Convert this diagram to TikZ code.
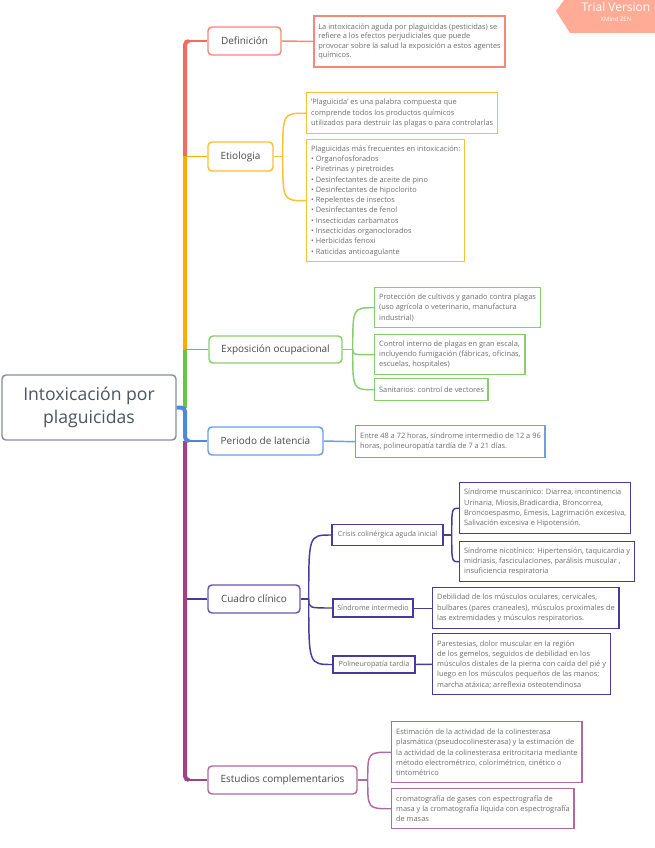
\documentclass[tikz,border=0pt]{standalone}
\usepackage{fontspec}
\setmainfont{Open Sans}
\usetikzlibrary{calc}
\definecolor{cT}{HTML}{4A4A4A}
\definecolor{cL}{HTML}{6E6E6E}
\definecolor{cCt}{HTML}{4D5560}
\definecolor{cC}{HTML}{8A9099}
\definecolor{rT}{HTML}{F26B5C}
\definecolor{rB}{HTML}{F5887B}
\definecolor{oT}{HTML}{F9AD00}
\definecolor{oB}{HTML}{FBC035}
\definecolor{gT}{HTML}{6BC14B}
\definecolor{gB}{HTML}{88CE6D}
\definecolor{bT}{HTML}{4A89DC}
\definecolor{bB}{HTML}{6D9FE2}
\definecolor{pB}{HTML}{6B55B2}
\definecolor{pC}{HTML}{4B3A9C}
\definecolor{mT}{HTML}{9E4383}
\definecolor{mB}{HTML}{B06A9D}
\definecolor{wmC}{HTML}{FFAB96}
\begin{document}
\begin{tikzpicture}[x=0.75pt,y=-0.75pt,
  centerbox/.style={draw=cC, line width=1.1pt, rounded corners=3pt, fill=white, align=center, text=cCt,
    font=\fontsize{13.2}{17.5}\selectfont, minimum width=130.5pt, minimum height=48.75pt, inner sep=0pt},
  br/.style={draw=#1, line width=1.1pt, rounded corners=3pt, fill=white, text=cT,
    font=\fontsize{7.5}{9}\selectfont, inner sep=0pt},
  lf/.style={draw=#1, line width=1.1pt, fill=white, text=cL, font=\fontsize{5.55}{7.7}\selectfont,
    align=left, anchor=north west, inner xsep=3.3pt, inner ysep=0pt},
  sb/.style={draw=#1, line width=1.1pt, fill=white, text=cL, font=\fontsize{5.4}{7}\selectfont, inner sep=0pt},
  tk/.style={line width=3pt},
  st/.style={line width=1.1pt},
  cn/.style={line width=1.1pt}]
\useasboundingbox (0,0) rectangle (655,848);
\fill[white] (0,0) rectangle (655,848);

% central topic
\node[centerbox] (c) at (89,407.5) {Intoxicación por\\plaguicidas};

% main branches
\node[br=rB, minimum width=54.75pt, minimum height=21pt] (def) at (244.5,41) {Definición};
\node[br=oB, minimum width=48.75pt, minimum height=21.75pt] (eti) at (240.5,156.5) {Etiologia};
\node[br=gB, minimum width=99.75pt, minimum height=20.25pt] (exp) at (275.5,349.5) {Exposición ocupacional};
\node[br=bB, minimum width=86.25pt, minimum height=21pt] (per) at (265.5,441) {Periodo de latencia};
\node[br=pB, minimum width=69pt, minimum height=21pt] (cua) at (254,599) {Cuadro clínico};
\node[br=mB, minimum width=111.75pt, minimum height=21pt] (est) at (282.5,780) {Estudios complementarios};

% trunk
\coordinate (tr) at (185,407.5);
\draw[tk, rT, rounded corners=3pt] (tr |- eti.west) -- (tr |- def.west) -- ++(4,0);
\draw[st, rT] (tr |- def.west) -- (def.west);
\draw[tk, oT] (tr |- exp.west) -- (tr |- eti.west);
\draw[st, oT] (tr |- eti.west) -- (eti.west);
\draw[tk, gT] (tr) -- (tr |- exp.west);
\draw[st, gT] (tr |- exp.west) -- (exp.west);
\draw[st, pC] (tr |- cua.west) -- (cua.west);
\draw[tk, mT, rounded corners=3pt] (tr |- per.west) -- (tr |- est.west) -- ++(4,0);
\draw[st, mT] (tr |- est.west) -- (est.west);
\draw[tk, bT, rounded corners=3pt] (c.east) -- (tr) -- (tr |- per.west) -- ++(4,0);
\draw[st, bT] (tr |- per.west) -- (per.west);

% Definicion
\node[lf=rB, line width=1.5pt, font=\fontsize{5.55}{7.1}\selectfont, minimum height=38.25pt] (defl) at (313,15)
 {La intoxicación aguda por plaguicidas (pesticidas) se\\refiere a los efectos perjudiciales que puede\\provocar sobre la salud la exposición a estos agentes\\químicos.};
\draw[cn, rB] (def.east) -- (defl.west);

% Etiologia
\node[lf=oB, minimum height=30.75pt] (eti1) at (306,92)
 {'Plaguicida' es una palabra compuesta que\\comprende todos los productos químicos\\utilizados para destruir las plagas o para controlarlas};
\node[lf=oB, minimum height=91.5pt] (eti2) at (306,139)
 {Plaguicidas más frecuentes en intoxicación:\\• Organofosforados\\• Piretrinas y piretroides\\• Desinfectantes de aceite de pino\\• Desinfectantes de hipoclorito\\• Repelentes de insectos\\• Desinfectantes de fenol\\• Insecticidas carbamatos\\• Insecticidas organoclorados\\• Herbicidas fenoxi\\• Raticidas anticoagulante};
\coordinate (jE) at ($(eti.east)+(9,0)$);
\draw[cn, oB] (eti.east) -- (jE);
\draw[cn, oB] (jE) .. controls (jE |- eti1.west) .. (eti1.west);
\draw[cn, oB] (jE) .. controls (jE |- eti2.west) .. (eti2.west);

% Exposicion
\node[lf=gB, minimum height=30pt] (exp1) at (374,287)
 {Protección de cultivos y ganado contra plagas\\(uso agrícola o veterinario, manufactura\\industrial)};
\node[lf=gB, minimum height=30pt] (exp2) at (374,334)
 {Control interno de plagas en gran escala,\\incluyendo fumigación (fábricas, oficinas,\\escuelas, hospitales)};
\node[lf=gB, minimum height=16.5pt] (exp3) at (374,378)
 {Sanitarios: control de vectores};
\coordinate (jX) at ($(exp.east)+(10,0)$);
\draw[cn, gB] (exp.east) -- (jX);
\draw[cn, gB] (jX) .. controls (jX |- exp1.west) .. (exp1.west);
\draw[cn, gB] (jX) .. controls (jX |- exp2.west) .. (exp2.west);
\draw[cn, gB] (jX) .. controls (jX |- exp3.west) .. (exp3.west);

% Periodo
\node[lf=bB, minimum height=24pt] (perl) at (355,425)
 {Entre 48 a 72 horas, síndrome intermedio de 12 a 96\\horas, polineuropatía tardía de 7 a 21 días.};
\draw[cn, bB] (per.east) -- (perl.west);

% Cuadro clinico
\node[sb=pC, minimum width=83.25pt, minimum height=15.75pt] (cri) at (387.5,535) {Crisis colinérgica aguda inicial};
\node[sb=pC, minimum width=60pt, minimum height=13.5pt] (sin) at (373,608) {Síndrome intermedio};
\node[sb=pC, minimum width=61.5pt, minimum height=12.75pt] (pol) at (374,664.5) {Polineuropatía tardía};
\coordinate (jC) at ($(cua.east)+(8,0)$);
\draw[cn, pC] (cua.east) -- (jC);
\draw[cn, pC] (jC) .. controls (jC |- cri.west) .. (cri.west);
\draw[cn, pC] (jC) .. controls (jC |- sin.west) .. (sin.west);
\draw[cn, pC] (jC) .. controls (jC |- pol.west) .. (pol.west);

\node[lf=pC, minimum height=38.25pt] (cA) at (459,482)
 {Síndrome muscarínico: Diarrea, incontinencia\\Urinaria, Miosis,Bradicardia, Broncorrea,\\Broncoespasmo, Emesis, Lagrimación excesiva,\\Salivación excesiva e Hipotensión.};
\node[lf=pC, minimum height=30pt] (cB) at (459,541)
 {Síndrome nicotínico: Hipertensión, taquicardia y\\midriasis, fasciculaciones, parálisis muscular ,\\insuficiencia respiratoria};
\coordinate (jR) at ($(cri.east)+(8,0)$);
\draw[cn, pC] (cri.east) -- (jR);
\draw[cn, pC] (jR) .. controls (jR |- cA.west) .. (cA.west);
\draw[cn, pC] (jR) .. controls (jR |- cB.west) .. (cB.west);

\node[lf=pC, minimum height=30.75pt] (sinl) at (432,587)
 {Debilidad de los músculos oculares, cervicales,\\bulbares (pares craneales), músculos proximales de\\las extremidades y músculos respiratorios.};
\draw[cn, pC] (sin.east) -- (sinl.west -| sin.east) -- (sinl.west);
\node[lf=pC, minimum height=45.75pt] (poll) at (432,633)
 {Parestesias, dolor muscular en la región\\de los gemelos, seguidos de debilidad en los\\músculos distales de la pierna con caída del pié y\\luego en los músculos pequeños de las manos;\\marcha atáxica; arreflexia osteotendinosa};
\draw[cn, pC] (pol.east) -- (poll.west);

% Estudios
\node[lf=mB, minimum height=45.75pt] (est1) at (391,721)
 {Estimación de la actividad de la colinesterasa\\plasmática (pseudocolinesterasa) y la estimación de\\la actividad de la colinesterasa eritrocitaria mediante\\ método electrométrico, colorimétrico, cinético o\\tintométrico};
\node[lf=mB, minimum height=30pt] (est2) at (391,788)
 {cromatografía de gases con espectrografía de\\masa y la cromatografía líquida con espectrografía\\de masas};
\coordinate (jS) at ($(est.east)+(10,0)$);
\draw[cn, mB] (est.east) -- (jS);
\draw[cn, mB] (jS) .. controls (jS |- est1.west) .. (est1.west);
\draw[cn, mB] (jS) .. controls (jS |- est2.west) .. (est2.west);

% watermark
\fill[wmC] (564,0) -- (655,0) -- (655,33) -- (570,33) -- (556,11) -- cycle;
\node[text=white, font=\fontsize{9}{10}\selectfont, inner sep=0pt] (wm1) at (616,7.5) {Trial Version};
\node[text=white, font=\fontsize{4.5}{5}\selectfont, inner sep=0pt] (wm2) at (616,19) {XMind ZEN};
\end{tikzpicture}
\end{document}
